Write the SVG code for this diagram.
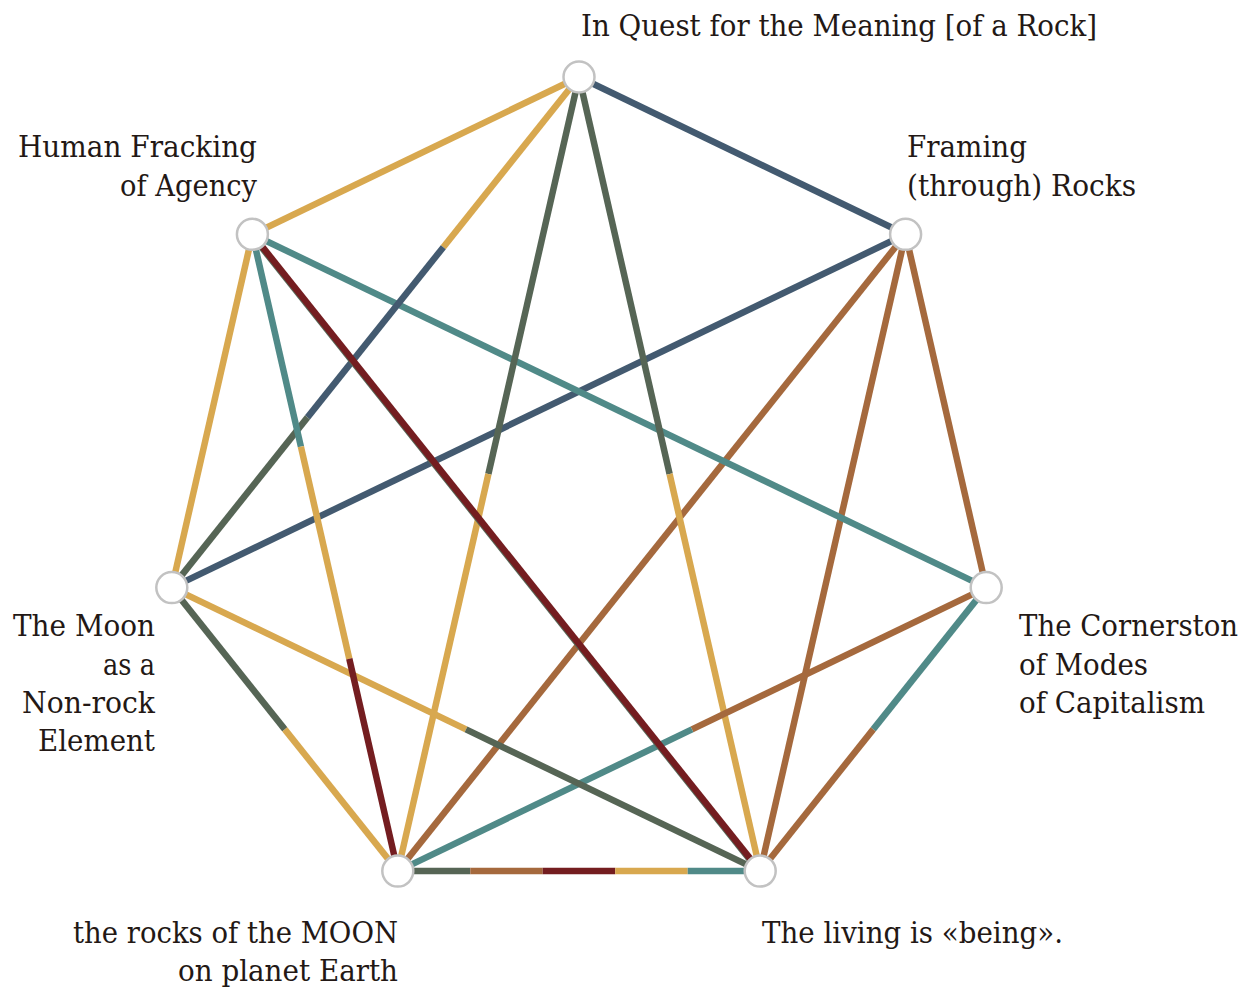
<svg xmlns="http://www.w3.org/2000/svg" width="1252" height="988" viewBox="0 0 1252 988">
<style>
  .e { stroke-width: 6.5; stroke-linecap: butt; fill: none; }
  .gold { stroke: #d8a84f; }
  .blue { stroke: #435a70; }
  .green { stroke: #566555; }
  .teal { stroke: #508a88; }
  .brown { stroke: #a5693d; }
  .red { stroke: #741d20; }
  .node circle { fill: #ffffff; stroke: #c2c2c2; stroke-width: 2.5; }
  .lbl { font-family: "DejaVu Serif", "Liberation Serif", serif; font-size: 29px; fill: #231815; }
  .end { text-anchor: end; }
</style>
<rect width="1252" height="988" fill="#ffffff"/>
<g id="connectors">
  <line class="e blue" x1="579" y1="77" x2="905.6" y2="234.3"/>
  <line class="e gold" x1="579" y1="77" x2="252.4" y2="234.3"/>
  <line class="e blue" x1="905.6" y1="234.3" x2="171.8" y2="587.6"/>
  <line class="e brown" x1="905.6" y1="234.3" x2="397.8" y2="871.1"/>
  <line class="e brown" x1="905.6" y1="234.3" x2="760.2" y2="871.1"/>
  <line class="e brown" x1="905.6" y1="234.3" x2="986.2" y2="587.6"/>
  <line class="e teal" x1="252.4" y1="234.3" x2="986.2" y2="587.6"/>
  <line class="e gold" x1="252.4" y1="234.3" x2="171.8" y2="587.6"/>
  <line class="e gold" x1="579" y1="77" x2="443.3" y2="247.2"/>
  <line class="e blue" x1="443.3" y1="247.2" x2="307.5" y2="417.4"/>
  <line class="e green" x1="307.5" y1="417.4" x2="171.8" y2="587.6"/>
  <line class="e green" x1="579" y1="77" x2="488.4" y2="474.05"/>
  <line class="e gold" x1="488.4" y1="474.05" x2="397.8" y2="871.1"/>
  <line class="e green" x1="579" y1="77" x2="669.6" y2="474.05"/>
  <line class="e gold" x1="669.6" y1="474.05" x2="760.2" y2="871.1"/>
  <line class="e brown" x1="986.2" y1="587.6" x2="692" y2="729.35"/>
  <line class="e teal" x1="692" y1="729.35" x2="397.8" y2="871.1"/>
  <line class="e teal" x1="986.2" y1="587.6" x2="873.2" y2="729.35"/>
  <line class="e brown" x1="873.2" y1="729.35" x2="760.2" y2="871.1"/>
  <line class="e gold" x1="171.8" y1="587.6" x2="466" y2="729.35"/>
  <line class="e green" x1="466" y1="729.35" x2="760.2" y2="871.1"/>
  <line class="e green" x1="171.8" y1="587.6" x2="284.8" y2="729.35"/>
  <line class="e gold" x1="284.8" y1="729.35" x2="397.8" y2="871.1"/>
  <line class="e green" x1="251.6" y1="234.9" x2="759.4" y2="871.7"/>
  <line class="e red" x1="252.4" y1="234.3" x2="760.2" y2="871.1"/>
  <line class="e teal" x1="252.4" y1="234.3" x2="300.9" y2="446.6"/>
  <line class="e gold" x1="300.9" y1="446.6" x2="349.3" y2="658.8"/>
  <line class="e red" x1="349.3" y1="658.8" x2="397.8" y2="871.1"/>
  <line class="e green" x1="397.8" y1="871.1" x2="470.3" y2="871.1"/>
  <line class="e brown" x1="470.3" y1="871.1" x2="542.7" y2="871.1"/>
  <line class="e red" x1="542.7" y1="871.1" x2="615.2" y2="871.1"/>
  <line class="e gold" x1="615.2" y1="871.1" x2="687.7" y2="871.1"/>
  <line class="e teal" x1="687.7" y1="871.1" x2="760.2" y2="871.1"/>
</g>
<g id="node-quest" class="node">
  <circle cx="579" cy="77" r="15.5"/>
  <text class="lbl" x="581" y="36" textLength="516" lengthAdjust="spacingAndGlyphs">In Quest for the Meaning [of a Rock]</text>
</g>
<g id="node-framing" class="node">
  <circle cx="905.6" cy="234.3" r="15.5"/>
  <text class="lbl" x="907" y="157" textLength="120" lengthAdjust="spacingAndGlyphs">Framing</text>
  <text class="lbl" x="907" y="196" textLength="229" lengthAdjust="spacingAndGlyphs">(through) Rocks</text>
</g>
<g id="node-cornerstone" class="node">
  <circle cx="986.2" cy="587.6" r="15.5"/>
  <text class="lbl" x="1019" y="636" textLength="219" lengthAdjust="spacingAndGlyphs">The Cornerston</text>
  <text class="lbl" x="1019" y="675" textLength="129" lengthAdjust="spacingAndGlyphs">of Modes</text>
  <text class="lbl" x="1019" y="713" textLength="186" lengthAdjust="spacingAndGlyphs">of Capitalism</text>
</g>
<g id="node-living" class="node">
  <circle cx="760.2" cy="871.1" r="15.5"/>
  <text class="lbl" x="762" y="943" textLength="301" lengthAdjust="spacingAndGlyphs">The living is «being».</text>
</g>
<g id="node-rocks" class="node">
  <circle cx="397.8" cy="871.1" r="15.5"/>
  <text class="lbl end" x="398" y="943" textLength="325" lengthAdjust="spacingAndGlyphs">the rocks of the MOON</text>
  <text class="lbl end" x="398" y="981" textLength="220" lengthAdjust="spacingAndGlyphs">on planet Earth</text>
</g>
<g id="node-moon" class="node">
  <circle cx="171.8" cy="587.6" r="15.5"/>
  <text class="lbl end" x="155" y="636" textLength="142" lengthAdjust="spacingAndGlyphs">The Moon</text>
  <text class="lbl end" x="155" y="675" textLength="52" lengthAdjust="spacingAndGlyphs">as a</text>
  <text class="lbl end" x="155" y="713" textLength="133" lengthAdjust="spacingAndGlyphs">Non-rock</text>
  <text class="lbl end" x="155" y="751" textLength="117" lengthAdjust="spacingAndGlyphs">Element</text>
</g>
<g id="node-human" class="node">
  <circle cx="252.4" cy="234.3" r="15.5"/>
  <text class="lbl end" x="257" y="157" textLength="239" lengthAdjust="spacingAndGlyphs">Human Fracking</text>
  <text class="lbl end" x="257" y="196" textLength="137" lengthAdjust="spacingAndGlyphs">of Agency</text>
</g>
</svg>
